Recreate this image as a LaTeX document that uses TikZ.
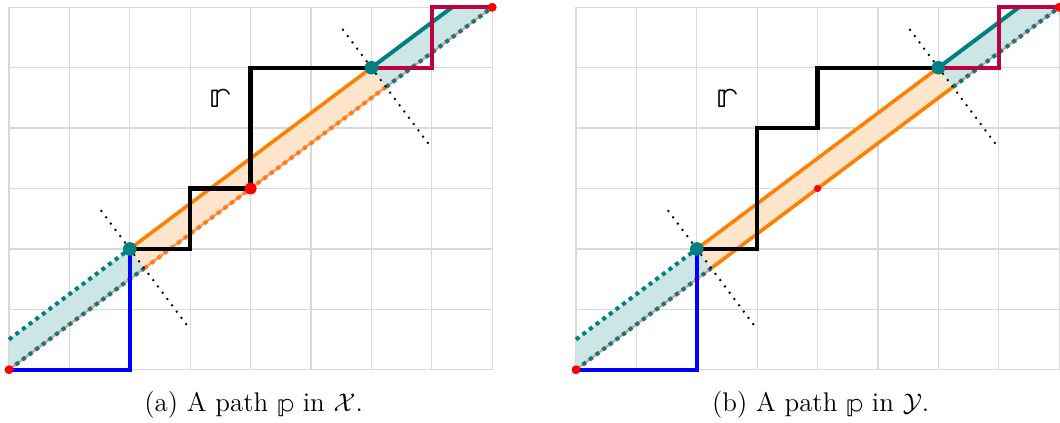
\documentclass[tikz,border=0pt]{standalone}
\usepackage{fontspec}
\newfontfamily\lmm{latinmodern-math.otf}
\usetikzlibrary{calc}
\tikzset{
  gridline/.style={draw=gray!30, line width=0.6pt},
  diag/.style={draw=red!45, line width=1pt},
  tealdots/.style={draw=teal, line width=1.9pt, dotted},
  orangedots/.style={draw=orange, line width=1.9pt, dotted},
  perp/.style={draw=black, line width=0.9pt, dash pattern=on 0.9pt off 2.8pt},
  bluepath/.style={draw=blue, line width=2pt},
  blackpath/.style={draw=black, line width=2pt},
  purplepath/.style={draw=purple, line width=1.8pt},
  orangeline/.style={draw=orange, line width=1.7pt},
  tealline/.style={draw=teal, line width=1.9pt},
  bigdot/.style={circle, fill=teal, inner sep=0pt, minimum size=6.4pt},
  reddot/.style={circle, fill=red, inner sep=0pt, minimum size=4.2pt},
  labeltext/.style={font=\fontsize{19}{21}\lmm},
  captext/.style={font=\fontsize{12.7}{15}\selectfont}
}
\begin{document}
\begin{tikzpicture}
\useasboundingbox (-0.149,-0.877) rectangle (17.40,6.121);
\foreach \pre/\dx/\mode in {a-/0/0, b-/9.387/1}{
\begin{scope}[xshift=\dx cm, name prefix=\pre]
  \draw[gridline] (0,0) grid (8,6);
  \coordinate (O) at (0,0);
  \coordinate (E) at (8,6);
  \coordinate (P) at (2,2);
  \coordinate (Q) at (6,5);
  \coordinate (Pf) at (2.24,1.68);
  \coordinate (Qf) at (6.24,4.68);
  \coordinate (L0) at (0,0.5);
  \coordinate (Qt) at (7.3333,6);
  \coordinate (M) at (4,3);
  % fills
  \fill[teal!20] (O) -- (L0) -- (P) -- (Pf) -- cycle;
  \fill[orange!20] (P) -- (Q) -- (Qf) -- (Pf) -- cycle;
  \fill[teal!20] (Q) -- (Qt) -- (E) -- (Qf) -- cycle;
  % diagonal
  \draw[diag] (O) -- (E);
  \draw[tealdots] (O) -- (Pf);
  \draw[tealdots] (Qf) -- (E);
  \draw[tealdots] (L0) -- (P);
  \ifnum\mode=0
    \draw[orangedots] (Pf) -- (Qf);
  \else
    \draw[orangeline] (Pf) -- (Qf);
  \fi
  \draw[orangeline] (P) -- (Q);
  \draw[tealline] (Q) -- (Qt);
  % perpendiculars
  \coordinate (P1) at ($(P)+(-0.48,0.64)$);
  \coordinate (P2) at ($(P)+(0.96,-1.28)$);
  \coordinate (Q1) at ($(Q)+(-0.48,0.64)$);
  \coordinate (Q2) at ($(Q)+(0.96,-1.28)$);
  \draw[perp] (P1) -- (P2);
  \draw[perp] (Q1) -- (Q2);
  % paths
  \draw[bluepath] (O) -- (2,0) -- (P);
  \ifnum\mode=0
    \draw[blackpath] (P) -- (3,2) -- (3,3) -- (M) -- (4,5) -- (Q);
    \node[labeltext] (r) at (3.5,4.5) {𝕣};
  \else
    \draw[blackpath] (P) -- (3,2) -- (3,4) -- (4,4) -- (4,5) -- (Q);
    \node[labeltext] (r) at (2.5,4.5) {𝕣};
  \fi
  \draw[purplepath] (Q) -- (7,5) -- (7,6) -- (E);
  % dots
  \node[bigdot] (dP) at (P) {};
  \node[bigdot] (dQ) at (Q) {};
  \node[reddot] (dO) at (O) {};
  \node[reddot] (dE) at (E) {};
  \ifnum\mode=0
    \node[circle, fill=red, inner sep=0pt, minimum size=5.6pt] (dM) at (M) {};
    \node[captext] (cap) at (4.05,-0.58) {(a) A path {\lmm 𝕡} in $\mathcal{X}$.};
  \else
    \node[circle, fill=red, inner sep=0pt, minimum size=3.4pt] (dM) at (M) {};
    \node[captext] (cap) at (4.05,-0.58) {(b) A path {\lmm 𝕡} in $\mathcal{Y}$.};
  \fi
\end{scope}
}
\end{tikzpicture}
\end{document}
